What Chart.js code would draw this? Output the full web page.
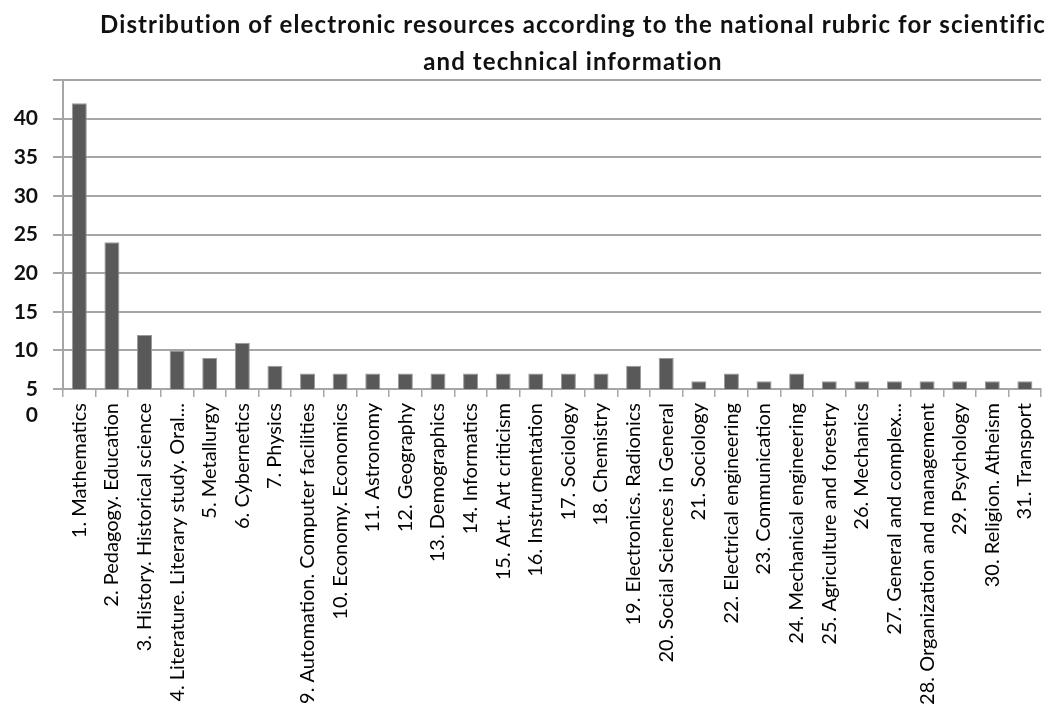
<!DOCTYPE html>
<html>
<head>
<meta charset="utf-8">
<script src="https://cdn.jsdelivr.net/npm/chart.js@4.4.1/dist/chart.umd.min.js"></script>
<style>
  html, body { margin: 0; background: #fff; }
  #wrap { width: 1055px; height: 704px; position: relative; }
</style>
</head>
<body>
<div id="wrap"><canvas id="grafico"></canvas></div>
<script>
const tituloLineas = [
  "Distribution of electronic resources according to the national rubric for scientific",
  "and technical information"
];

const rubricas = [
  "1. Mathematics", "2. Pedagogy. Education", "3. History. Historical science",
  "4. Literature. Literary study. Oral...", "5. Metallurgy", "6. Cybernetics", "7. Physics",
  "9. Automation. Computer facilities", "10. Economy. Economics", "11. Astronomy",
  "12. Geography", "13. Demographics", "14. Informatics", "15. Art. Art criticism",
  "16. Instrumentation", "17. Sociology", "18. Chemistry", "19. Electronics. Radionics",
  "20. Social Sciences in General", "21. Sociology", "22. Electrical engineering",
  "23. Communication", "24. Mechanical engineering", "25. Agriculture and forestry",
  "26. Mechanics", "27. General and complex...", "28. Organization and management",
  "29. Psychology", "30. Religion. Atheism", "31. Transport"
];

const recursos = [42, 24, 12, 10, 9, 11, 8, 7, 7, 7, 7, 7, 7, 7, 7, 7, 7, 8, 9, 6, 7, 6, 7, 6, 6, 6, 6, 6, 6, 6];

// eje vertical: arranca en 5, con un "0" suelto debajo
const ejeMin = 5;
const ejeMax = 45;
const ejePaso = 5;
const ejeCero = "0";

const gris = "#a6a6a6";

const textosExtra = {
  id: "textosExtra",
  afterDraw(chart) {
    const c = chart.ctx;
    const y = chart.scales.y;
    c.save();
    c.fillStyle = "#111";
    c.textBaseline = "middle";
    c.textAlign = "center";
    c.font = "bold 24px Lato";
    c.letterSpacing = "1.1px";
    tituloLineas.forEach((t, i) => c.fillText(t, 573, 25 + i * 37));
    c.letterSpacing = "0px";
    c.textAlign = "right";
    c.font = "bold 21px Lato";
    c.fillText(ejeCero, 38, y.bottom + 26);
    c.restore();
  }
};

new Chart(document.getElementById("grafico"), {
  type: "bar",
  data: {
    labels: rubricas,
    datasets: [{
      data: recursos,
      backgroundColor: "#595959",
      borderColor: "#9a9a9a",
      borderWidth: 1,
      barPercentage: 0.46,
      categoryPercentage: 1
    }]
  },
  options: {
    responsive: true,
    maintainAspectRatio: false,
    animation: false,
    layout: { padding: { top: 80, right: 7, left: 0, bottom: 0 } },
    plugins: {
      legend: { display: false },
      tooltip: { enabled: false }
    },
    scales: {
      x: {
        offset: true,
        afterFit: s => { s.height = 315; },
        grid: {
          offset: true,
          drawOnChartArea: false,
          color: gris,
          lineWidth: 1.5,
          tickLength: 8
        },
        border: { color: gris, width: 2 },
        ticks: {
          autoSkip: false,
          minRotation: 90,
          maxRotation: 90,
          padding: 6,
          color: "#000",
          font: { family: "Lato", size: 20 }
        }
      },
      y: {
        min: ejeMin,
        max: ejeMax,
        afterFit: s => { s.width = 63; },
        grid: { color: gris, lineWidth: 2, tickLength: 10 },
        border: { color: gris, width: 2 },
        ticks: {
          stepSize: ejePaso,
          padding: 15,
          color: "#111",
          font: { family: "Lato", size: 21, weight: "bold" },
          callback: v => (v === ejeMax ? "" : v)
        }
      }
    }
  },
  plugins: [textosExtra]
});
</script>
</body>
</html>
